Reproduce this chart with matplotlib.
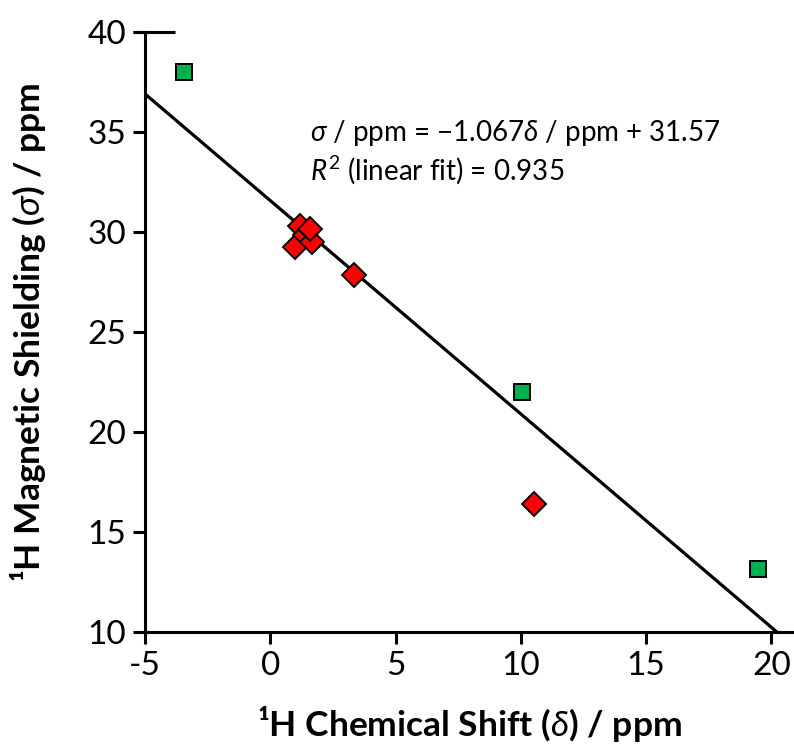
import matplotlib
matplotlib.use("Agg")
import matplotlib.pyplot as plt
import numpy as np

# Data
green_x = [-3.44, 10.03, 19.45]
green_y = [38.0, 21.98, 13.15]
red_x = [1.18, 0.98, 1.38, 1.65, 1.57, 3.33, 10.52]
red_y = [30.3, 29.27, 29.85, 29.52, 30.15, 27.85, 16.38]
slope = -1.067
intercept = 31.57
xticks = [-5, 0, 5, 10, 15, 20]
yticks = [10, 15, 20, 25, 30, 35, 40]

plt.rcParams['font.family'] = ['Lato', 'DejaVu Sans']
plt.rcParams['mathtext.fontset'] = 'custom'
plt.rcParams['mathtext.rm'] = 'Lato'
plt.rcParams['mathtext.it'] = 'Lato:italic'
plt.rcParams['mathtext.bf'] = 'Lato:bold'
plt.rcParams['mathtext.fallback'] = 'stix'

W, H = 794, 754
fig = plt.figure(figsize=(W / 100, H / 100), dpi=100)
ax = fig.add_axes([145 / W, 122 / H, 649 / W, 600 / H])

xlim = (-5, 20.9)
ax.set_xlim(*xlim)
ax.set_ylim(10, 40)

# fit line
lx = np.linspace(-5, (10 - intercept) / slope, 200)
ax.plot(lx, slope * lx + intercept, color='black', lw=2.3, zorder=2, clip_on=True)

ax.plot(green_x, green_y, linestyle='none', marker='s', ms=11.6,
        mfc='#00B050', mec='black', mew=1.4, zorder=3)
ax.plot(red_x, red_y, linestyle='none', marker='D', ms=11.8,
        mfc='#FF0000', mec='black', mew=1.4, zorder=4)

for s in ['top', 'right']:
    ax.spines[s].set_visible(False)
for s in ['left', 'bottom']:
    ax.spines[s].set_linewidth(2.2)

# short cap at the top of the y axis
ax.plot([-12 / 649, 30 / 649], [1, 1], transform=ax.transAxes, color='black',
        lw=2.2, clip_on=False, solid_capstyle='butt', zorder=5)

ax.set_xticks(xticks)
ax.set_yticks(yticks)
ax.tick_params(axis='both', direction='out', length=8.6, width=2.2,
               labelsize=24, pad=5)
ax.set_xticklabels([str(t) for t in xticks])
ax.set_yticklabels([str(t) for t in yticks])

ax.set_xlabel('¹H Chemical Shift ($\\mathit{\\delta}$) / ppm', fontsize=25.5,
              fontweight='bold', labelpad=17)
ax.set_ylabel('¹H Magnetic Shielding ($\\mathit{\\sigma}$) / ppm', fontsize=25.5,
              fontweight='bold', labelpad=28)

ax.text((310 - 145) / 649, (632 - 133) / 600,
        '$\\mathit{\\sigma}$ / ppm = \u22121.067$\\mathit{\\delta}$ / ppm + 31.57',
        transform=ax.transAxes, fontsize=20, va='center', ha='left')
ax.text((310 - 145) / 649, (632 - 170) / 600,
        '$\\mathit{R}^{2}$ (linear fit) = 0.935',
        transform=ax.transAxes, fontsize=20, va='center', ha='left')

fig.savefig('out.png', dpi=100)
